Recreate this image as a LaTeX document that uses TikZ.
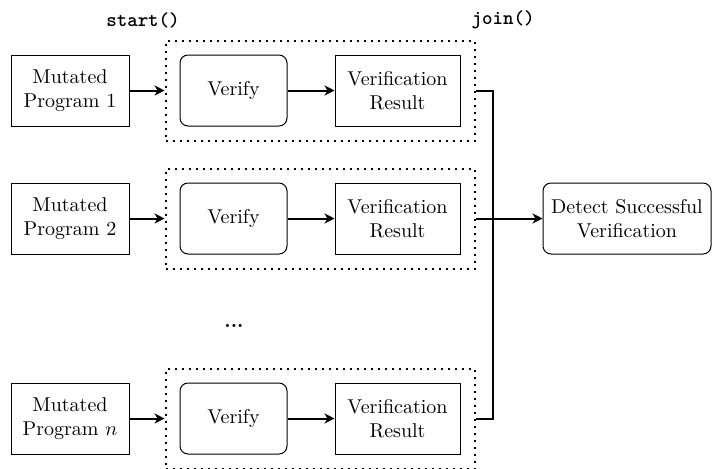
\documentclass[tikz,border=0pt]{standalone}
\usetikzlibrary{arrows.meta,fit}
\begin{document}
\begin{tikzpicture}[x=0.5pt,y=-0.5pt,
  progbox/.style={draw,line width=0.5pt,minimum width=59pt,minimum height=35.5pt,align=center,inner sep=1pt},
  verifybox/.style={draw,line width=0.5pt,rounded corners=4pt,minimum width=53.5pt,minimum height=35.5pt,align=center},
  resultbox/.style={draw,line width=0.5pt,minimum width=62.5pt,minimum height=35.5pt,align=center,inner sep=1pt},
  detectbox/.style={draw,line width=0.5pt,rounded corners=4pt,minimum width=84pt,minimum height=35.5pt,align=center,inner sep=1pt},
  group/.style={draw,line width=1pt,dash pattern=on 1pt off 2.5pt,inner sep=7pt},
  flow/.style={line width=1pt,-{Stealth[length=5pt,width=5pt,inset=1.5pt]}},
  link/.style={line width=1pt},
  call/.style={font=\ttfamily\bfseries}]
\useasboundingbox (0,0) rectangle (713,468);

% labels for the thread calls
\node[call] (start) at (143,20) {start()};
\node[call] (join) at (503,20) {join()};

% first mutated program
\node[progbox] (m1) at (70,90.5) {Mutated\\Program 1};
\node[verifybox] (v1) at (233.5,90.5) {Verify};
\node[resultbox] (r1) at (397.5,90.5) {Verification\\Result};
\node[group,fit=(v1)(r1)] (g1) {};

% second mutated program
\node[progbox] (m2) at (70,218.5) {Mutated\\Program 2};
\node[verifybox] (v2) at (233.5,218.5) {Verify};
\node[resultbox] (r2) at (397.5,218.5) {Verification\\Result};
\node[group,fit=(v2)(r2)] (g2) {};

% ellipsis between rows
\node (dots) at (234,326) {\textbf{...}};

% n-th mutated program
\node[progbox] (m3) at (70,418.5) {Mutated\\Program $n$};
\node[verifybox] (v3) at (233.5,418.5) {Verify};
\node[resultbox] (r3) at (397.5,418.5) {Verification\\Result};
\node[group,fit=(v3)(r3)] (g3) {};

% collector
\node[detectbox] (det) at (627,218.5) {Detect Successful\\Verification};

% connectors
\foreach \i in {1,2,3}{
  \draw[flow] (m\i.east) -- (g\i.west);
  \draw[flow] (v\i.east) -- (r\i.west);
}
\coordinate (bus1) at (493,90.5);
\coordinate (bus3) at (493,418.5);
\draw[link] (g1.east) -- (bus1) -- (bus3) -- (g3.east);
\draw[flow] (g2.east) -- (det.west);
\end{tikzpicture}
\end{document}
